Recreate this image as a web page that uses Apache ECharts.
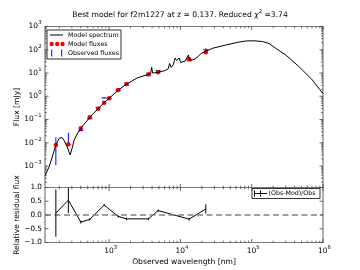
<!DOCTYPE html>
<html><head><meta charset="utf-8">
<script src="https://cdn.jsdelivr.net/npm/echarts@6/dist/echarts.min.js"></script>
<style>html,body{margin:0;padding:0;background:#fff}#c{width:360px;height:270px}</style>
</head><body><div id="c"></div>
<script>
// ---- data ----
const bandWavelength = [179, 268, 401, 535, 702, 851, 1000, 1337, 1749, 3556, 4863, 13250, 22700];
const modelFlux      = [0.0080, 0.00857, 0.0419, 0.1245, 0.292, 0.528, 0.817, 1.86, 3.37, 8.79, 10.7, 38.8, 77.6];
const observedFlux   = [0.0091, 0.0175, 0.0333, 0.107, 0.335, 0.85, 0.82, 1.77, 2.96, 7.7, 12.7, 33.7, 99.5];
const observedError  = [0.0080, 0.0095, 0.0017, 0.004, 0.01, 0.03, 0.03, 0.05, 0.1, 0.2, 0.3, 1.0, 18];
const residualWavelength = [179, 268, 401, 535, 851, 1337, 1749, 3556, 4863, 13250, 22700];
const residualValue      = [0.07, 0.54, -0.26, -0.16, 0.36, -0.05, -0.14, -0.14, 0.16, -0.15, 0.22];
const residualError      = [0.86, 0.47, 0.05, 0.04, 0.04, 0.04, 0.05, 0.04, 0.04, 0.05, 0.17];
const spectrumWavelength = [126, 144, 179, 199, 219, 234, 258, 284, 303, 323, 356, 401, 535, 702, 851, 1000,
  1350, 1770, 2470, 3556, 3820, 3945, 4074, 4863, 6100, 6710, 7060, 7410, 7910, 8440, 8860, 9150, 9600,
  10070, 10570, 11650, 12420, 12950, 13460, 14590, 16070, 17700, 19500, 21500, 22900, 28100, 43300,
  66600, 82600, 108000, 141400, 175000, 217700, 300700, 462000, 710000, 1000000];
const spectrumFlux = [3.8e-4, 9.3e-4, 0.0078, 0.0155, 0.0168, 0.0122, 0.0066, 0.0030, 0.0059, 0.0131, 0.0238, 0.0419, 0.124, 0.292, 0.528, 0.817,
  1.86, 3.37, 6.1, 8.79, 9.5, 17.6, 10, 10.7, 12.8, 14.9, 25.6, 17.3, 22.1, 44.2, 34.5, 29.7, 44.2,
  28.3, 26.9, 32.8, 36.2, 59.4, 36.2, 36.2, 40, 51.3, 69, 80, 85.7, 115, 160,
  215, 238, 243, 226, 186, 115, 59.4, 18.7, 5.0, 1.3];
const xTickExponents = [3, 4, 5, 6];
const yTickExponents = [-3, -2, -1, 0, 1, 2, 3];
const residualTicks = [-1, -0.5, 0, 0.5, 1];
const residualTickLabels = ['\u22121.0', '\u22120.5', '0.0', '0.5', '1.0'];

const xMin = 126, xMax = 1e6, yMin = 1.19e-4, yMax = 1e3, rMin = -1, rMax = 1;
const FONT = "'DejaVu Sans', 'Bitstream Vera Sans', sans-serif";
const FRAME = '#7a7a7a';

function zip2(a, b) { return a.map((v, i) => [v, b[i]]); }
function zip3(a, b, c) { return a.map((v, i) => [v, b[i], c[i]]); }

// tick data: [x, y, kind] kind 0 x-major, 1 x-minor, 2 y-major, 3 y-minor
const xTicksMajor = xTickExponents.map(e => Math.pow(10, e));
const xTicksMinor = [];
for (let e = 2; e <= 5; e++) for (let k = 2; k <= 9; k++) { const v = k * Math.pow(10, e); if (v > xMin && v < xMax) xTicksMinor.push(v); }
const yTicksMajor = yTickExponents.map(e => Math.pow(10, e));
const yTicksMinor = [];
for (let e = -4; e <= 2; e++) for (let k = 2; k <= 9; k++) { const v = k * Math.pow(10, e); if (v > yMin && v < yMax) yTicksMinor.push(v); }

const topTicks = [].concat(
  xTicksMajor.map(v => [v, yMin, 0]), xTicksMinor.map(v => [v, yMin, 1]),
  yTicksMajor.map(v => [xMin, v, 2]), yTicksMinor.map(v => [xMin, v, 3]));
const botTicks = [].concat(
  xTicksMajor.map(v => [v, rMin, 0]), xTicksMinor.map(v => [v, rMin, 1]),
  residualTicks.map(v => [xMin, v, 2]));

function tickSeries(gi, data) {
  return {
    type: 'custom', xAxisIndex: gi, yAxisIndex: gi, silent: true, z: 10, data: data,
    renderItem: function (params, api) {
      const cs = params.coordSys;
      const p = api.coord([api.value(0), api.value(1)]);
      const kind = api.value(2);
      const len = (kind === 0 || kind === 2) ? 3.5 : 1.8;
      const st = { stroke: '#444', lineWidth: 0.8 };
      if (kind < 2) {
        const x = p[0];
        return { type: 'group', children: [
          { type: 'line', shape: { x1: x, y1: cs.y + cs.height, x2: x, y2: cs.y + cs.height - len }, style: st },
          { type: 'line', shape: { x1: x, y1: cs.y, x2: x, y2: cs.y + len }, style: st }] };
      }
      const y = p[1];
      return { type: 'group', children: [
        { type: 'line', shape: { x1: cs.x, y1: y, x2: cs.x + len, y2: y }, style: st },
        { type: 'line', shape: { x1: cs.x + cs.width, y1: y, x2: cs.x + cs.width - len, y2: y }, style: st }] };
    }
  };
}

function errorSeries(gi, data, color, lowClamp, capped, z) {
  return {
    type: 'custom', xAxisIndex: gi, yAxisIndex: gi, silent: true, z: z, data: data,
    renderItem: function (params, api) {
      const cs = params.coordSys;
      const x = api.value(0), y = api.value(1), e = api.value(2);
      const t = api.coord([x, y + e]);
      const b = api.coord([x, Math.max(y - e, lowClamp)]);
      const c = api.coord([x, y]);
      const y1 = Math.max(t[1], cs.y), y2 = Math.min(b[1], cs.y + cs.height);
      const st = { stroke: color, lineWidth: 1 };
      const ch = [{ type: 'line', shape: { x1: c[0], y1: y1, x2: c[0], y2: y2 }, style: st }];
      if (capped && (y2 - y1) < 8) ch.push({ type: 'line', shape: { x1: c[0] - 2.5, y1: c[1], x2: c[0] + 2.5, y2: c[1] }, style: st });
      return { type: 'group', children: ch };
    }
  };
}

const supRich = {
  b: { fontSize: 7.5, fontFamily: FONT, fill: '#000', lineHeight: 10, verticalAlign: 'bottom' },
  s: { fontSize: 5.3, fontFamily: FONT, fill: '#000', lineHeight: 6, verticalAlign: 'top' }
};
function expText(e) { return '{b|10}{s|' + (e < 0 ? '\u2212' + (-e) : e) + '}'; }

// label data: [x, y, kind, index]  kind 0 top-y log labels, kind 1 bottom x labels
const topLabelData = yTickExponents.map((e, i) => [xMin, Math.pow(10, e), 0, i]);
const botXLabelData = xTickExponents.map((e, i) => [Math.pow(10, e), rMin, 1, i]);
const botYLabelData = residualTicks.map((v, i) => [xMin, v, 2, i]);

function labelSeries(gi, data) {
  return {
    type: 'custom', xAxisIndex: gi, yAxisIndex: gi, silent: true, z: 10, data: data,
    renderItem: function (params, api) {
      const p = api.coord([api.value(0), api.value(1)]);
      const kind = api.value(2), i = api.value(3);
      if (kind === 0) {
        return { type: 'text', x: p[0] - 3.5, y: p[1] - 1, style: { text: expText(yTickExponents[i]), rich: supRich, align: 'right', verticalAlign: 'middle' } };
      }
      if (kind === 1) {
        return { type: 'text', x: p[0] + 1.5, y: p[1] + 3, style: { text: expText(xTickExponents[i]), rich: supRich, align: 'center', verticalAlign: 'top' } };
      }
      return { type: 'text', x: p[0] - 3, y: p[1], style: { text: residualTickLabels[i], fontSize: 7.3, fontFamily: FONT, fill: '#000', align: 'right', verticalAlign: 'middle' } };
    }
  };
}

const hiddenAxis = { axisLine: { show: false }, axisTick: { show: false }, axisLabel: { show: false }, splitLine: { show: false } };

const chart = echarts.init(document.getElementById('c'), null, { renderer: 'canvas' });
chart.setOption({
  animation: false,
  backgroundColor: '#fff',
  title: {
    left: 'center', top: 4,
    text: '{a|Best model for f2m1227 at z = 0.137. Reduced }{c|\u03c7}{s|2}{a| =3.74}',
    textStyle: { fontWeight: 'normal', rich: {
      a: { fontSize: 7.6, fontFamily: FONT, fontWeight: 'normal', color: '#000', lineHeight: 10, verticalAlign: 'bottom' },
      c: { fontSize: 7.6, fontFamily: FONT, fontWeight: 'normal', fontStyle: 'italic', color: '#000', lineHeight: 10, verticalAlign: 'bottom' },
      s: { fontSize: 5.3, fontFamily: FONT, fontWeight: 'normal', color: '#000', lineHeight: 7, verticalAlign: 'top' } } }
  },
  grid: [
    { left: 45, top: 26.5, width: 278, height: 161, show: true, borderColor: FRAME, borderWidth: 1.2, backgroundColor: 'transparent' },
    { left: 45, top: 187.5, width: 278, height: 55, show: true, borderColor: FRAME, borderWidth: 1.2, backgroundColor: 'transparent' }
  ],
  xAxis: [
    Object.assign({ type: 'log', gridIndex: 0, min: xMin, max: xMax, logBase: 10 }, hiddenAxis),
    Object.assign({ type: 'log', gridIndex: 1, min: xMin, max: xMax, logBase: 10 }, hiddenAxis)
  ],
  yAxis: [
    Object.assign({ type: 'log', gridIndex: 0, min: yMin, max: yMax, logBase: 10 }, hiddenAxis),
    Object.assign({ type: 'value', gridIndex: 1, min: rMin, max: rMax, interval: 0.5 }, hiddenAxis)
  ],
  series: [
    errorSeries(0, zip3(bandWavelength, observedFlux, observedError), '#0000ff', yMin, true, 2),
    { type: 'scatter', xAxisIndex: 0, yAxisIndex: 0, z: 3, silent: true, symbol: 'circle', symbolSize: 4.6,
      itemStyle: { color: '#ff0000', opacity: 1 }, data: zip2(bandWavelength, modelFlux) },
    { type: 'line', xAxisIndex: 0, yAxisIndex: 0, z: 4, silent: true, showSymbol: false, symbol: 'none',
      lineStyle: { color: '#000', width: 1 }, data: zip2(spectrumWavelength, spectrumFlux) },
    tickSeries(0, topTicks),
    labelSeries(0, topLabelData),
    { type: 'line', xAxisIndex: 1, yAxisIndex: 1, z: 4, silent: true, showSymbol: false, symbol: 'none',
      lineStyle: { color: '#000', width: 1 }, data: zip2(residualWavelength, residualValue),
      markLine: { silent: true, symbol: 'none', label: { show: false }, animation: false,
        lineStyle: { color: '#808080', type: [6, 3.5], width: 1.5 }, data: [{ yAxis: 0 }] } },
    errorSeries(1, zip3(residualWavelength, residualValue, residualError), '#000', -10, false, 5),
    tickSeries(1, botTicks),
    labelSeries(1, botXLabelData.concat(botYLabelData))
  ],
  graphic: [
    { type: 'text', x: 17.5, y: 107, rotation: Math.PI / 2, style: { text: 'Flux [mJy]', fontSize: 7.6, fontFamily: FONT, fill: '#000', align: 'center', verticalAlign: 'middle' } },
    { type: 'text', x: 17.5, y: 215, rotation: Math.PI / 2, style: { text: 'Relative residual flux', fontSize: 7.6, fontFamily: FONT, fill: '#000', align: 'center', verticalAlign: 'middle' } },
    { type: 'text', x: 184, y: 262, style: { text: 'Observed wavelength [nm]', fontSize: 7.6, fontFamily: FONT, fill: '#000', align: 'center', verticalAlign: 'middle' } },
    // top legend
    { type: 'group', z: 20, children: [
      { type: 'rect', shape: { x: 47, y: 30, width: 74, height: 29 }, style: { fill: '#fff', stroke: '#000', lineWidth: 0.8 } },
      { type: 'line', shape: { x1: 50, y1: 35, x2: 63, y2: 35 }, style: { stroke: '#000', lineWidth: 1 } },
      { type: 'circle', shape: { cx: 51.7, cy: 44, r: 2.2 }, style: { fill: '#ff0000' } },
      { type: 'circle', shape: { cx: 57.2, cy: 44, r: 2.2 }, style: { fill: '#ff0000' } },
      { type: 'circle', shape: { cx: 62.5, cy: 44, r: 2.2 }, style: { fill: '#ff0000' } },
      { type: 'line', shape: { x1: 51.7, y1: 49.5, x2: 51.7, y2: 56.5 }, style: { stroke: '#0000ff', lineWidth: 1 } },
      { type: 'line', shape: { x1: 61.7, y1: 49.5, x2: 61.7, y2: 56.5 }, style: { stroke: '#0000ff', lineWidth: 1 } },
      { type: 'text', x: 68, y: 35, style: { text: 'Model spectrum', fontSize: 6.3, fontFamily: FONT, fill: '#000', verticalAlign: 'middle' } },
      { type: 'text', x: 68, y: 44, style: { text: 'Model fluxes', fontSize: 6.3, fontFamily: FONT, fill: '#000', verticalAlign: 'middle' } },
      { type: 'text', x: 68, y: 53, style: { text: 'Observed fluxes', fontSize: 6.3, fontFamily: FONT, fill: '#000', verticalAlign: 'middle' } }
    ] },
    // bottom legend
    { type: 'group', z: 20, children: [
      { type: 'rect', shape: { x: 252, y: 188.5, width: 68, height: 10 }, style: { fill: '#fff', stroke: '#000', lineWidth: 0.8 } },
      { type: 'line', shape: { x1: 254, y1: 193.5, x2: 267, y2: 193.5 }, style: { stroke: '#000', lineWidth: 1 } },
      { type: 'line', shape: { x1: 254.5, y1: 190.3, x2: 254.5, y2: 196.7 }, style: { stroke: '#000', lineWidth: 1 } },
      { type: 'line', shape: { x1: 260.5, y1: 190.3, x2: 260.5, y2: 196.7 }, style: { stroke: '#000', lineWidth: 1 } },
      { type: 'text', x: 268.5, y: 193.5, style: { text: '(Obs-Mod)/Obs', fontSize: 6.3, fontFamily: FONT, fill: '#000', verticalAlign: 'middle' } }
    ] }
  ]
});
</script>
</body></html>
